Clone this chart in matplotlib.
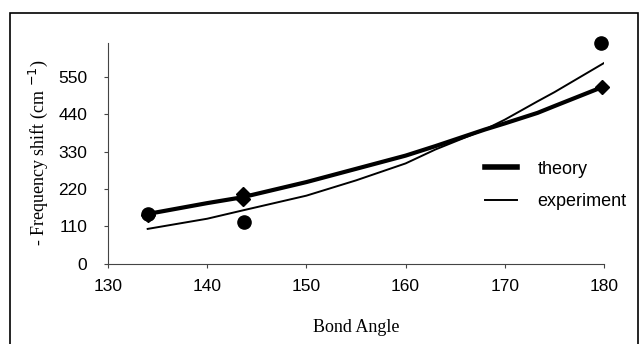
import matplotlib
matplotlib.use("Agg")
import matplotlib.pyplot as plt
from matplotlib.patches import Rectangle
from matplotlib.lines import Line2D

# theory curve (thick) and experiment curve (thin)
angle = [134, 140, 143.5, 150, 155, 160, 163, 168, 170, 173.3, 175, 180]
theory = [146, 178, 195, 240, 279, 318, 346, 395, 413, 444, 464, 522]
experiment = [102, 132, 156, 200, 245, 295, 336, 395, 424, 478, 505, 591]

# calculated points (diamonds) and measured points (circles)
diamond_x = [134, 143.6, 143.6, 179.8]
diamond_y = [143, 190, 206, 520]
circle_x = [134, 143.7, 179.7]
circle_y = [146, 122, 651]

yticks = [0, 110, 220, 330, 440, 550]
xticks = [130, 140, 150, 160, 170, 180]

fig = plt.figure(figsize=(6.41, 3.44), dpi=100)
fig.patches.append(Rectangle((10 / 641, -0.05), 628 / 641, 1 - 13 / 344 + 0.05,
                             transform=fig.transFigure, fill=False,
                             edgecolor="black", linewidth=1.2))

ax = fig.add_axes([108 / 641, 1 - 263.5 / 344, 496 / 641, 220.5 / 344])
ax.plot(angle, theory, color="black", linewidth=3, solid_capstyle="butt")
ax.plot(angle, experiment, color="black", linewidth=1.4)
ax.plot(diamond_x, diamond_y, "D", color="black", markersize=7, linestyle="none", clip_on=False)
ax.plot(circle_x, circle_y, "o", color="black", markersize=9.5, linestyle="none", clip_on=False)

ax.set_xlim(130, 180)
ax.set_ylim(0, 650)
ax.set_xticks(xticks)
ax.set_yticks(yticks)
for s in ["top", "right"]:
    ax.spines[s].set_visible(False)
for s in ["left", "bottom"]:
    ax.spines[s].set_color("#444444")
ax.tick_params(direction="out", length=3, color="#444444", labelsize=12.5)
for lab in ax.get_xticklabels() + ax.get_yticklabels():
    lab.set_family("Liberation Sans")
ax.tick_params(axis="x", pad=8)
ax.tick_params(axis="y", pad=12)

ax.set_xlabel("Bond Angle", family="Liberation Serif", fontsize=13, labelpad=18)
ax.set_ylabel("- Frequency shift (cm $^{-1}$)", family="Liberation Serif", fontsize=13, labelpad=6)

handles = [Line2D([], [], color="black", linewidth=4), Line2D([], [], color="black", linewidth=1.4)]
ax.legend(handles, ["theory", "experiment"], loc="upper left", bbox_to_anchor=(0.76, 0.467),
          frameon=False, handlelength=1.8, handletextpad=1.1, labelspacing=0.86,
          borderpad=0, borderaxespad=0,
          prop={"family": "Liberation Sans", "size": 13})

fig.savefig("out.png", dpi=100)
